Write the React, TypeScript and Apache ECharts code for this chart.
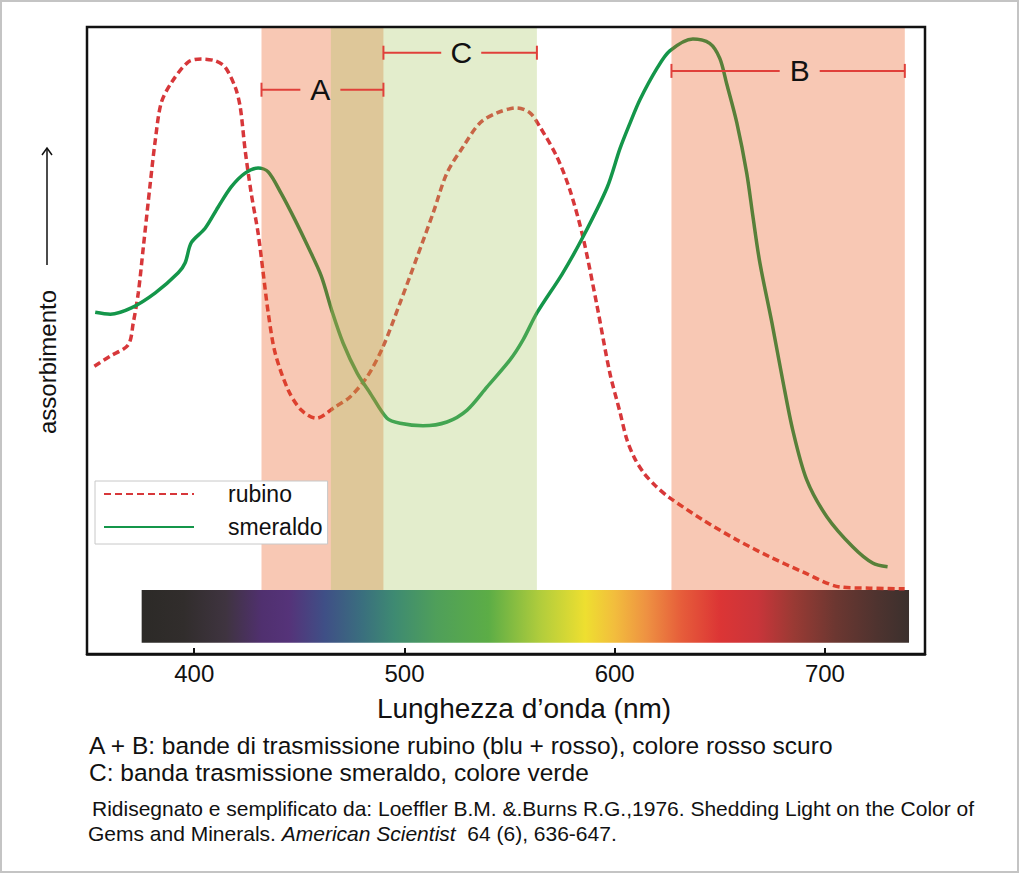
import React, { useEffect, useRef } from "react";
import * as echarts from "echarts";

// ---------- data ----------
const xTicks = [400, 500, 600, 700];

// rubino absorption (wavelength nm, relative absorbance 0-100)
const rubino: [number, number][] = [
  [352.5, 45.9], [360, 47.5], [368.6, 49.3], [371.0, 52.8], [373.4, 57.6], [375.8, 64.9],
  [379.1, 75.1], [381.5, 82.0], [384.3, 87.9], [389.1, 91.1], [397.1, 94.4], [403.3, 94.9],
  [410.0, 94.6], [414.7, 93.6], [419.5, 90.4], [421.9, 87.2], [424.2, 80.4], [427.1, 73.5],
  [430.4, 67.1], [432.8, 60.8], [435.2, 54.4], [438.5, 48.0], [444.7, 42.1], [450.9, 38.9],
  [458.0, 37.6], [467.0, 39.4], [474.1, 41.0], [482.2, 44.2], [489.8, 49.0], [497.9, 56.0],
  [506.0, 63.3], [513.6, 70.3], [520.2, 76.7], [527.9, 80.9], [535.9, 84.7], [544.0, 86.3],
  [553.5, 87.1], [559.7, 86.3], [564.4, 84.1], [572.5, 79.3], [578.7, 74.0], [584.9, 66.5],
  [591.5, 55.7], [597.7, 44.8], [602.5, 38.6], [605.8, 34.2], [609.5, 31.2], [614.0, 28.8],
  [619.5, 26.8], [626.2, 24.9], [641.9, 21.4], [658.1, 18.2], [673.8, 15.5], [689.4, 13.1],
  [707.0, 10.7], [721.3, 10.5], [737.9, 10.4]
];

// smeraldo absorption
const smeraldo: [number, number][] = [
  [352.9, 54.5], [360.1, 54.2], [370.1, 55.2], [381.5, 57.6], [392.4, 60.8], [395.7, 62.4],
  [398.6, 65.6], [405.2, 67.9], [411.4, 71.3], [417.6, 74.5], [424.2, 76.7], [430.4, 77.5],
  [435.2, 76.9], [441.3, 73.5], [448.0, 69.2], [454.2, 64.9], [460.4, 60.3], [465.6, 54.6],
  [470.8, 49.6], [477.5, 44.8], [483.7, 41.6], [491.7, 37.6], [497.9, 36.8], [508.8, 36.4],
  [520.2, 37.0], [529.8, 38.9], [539.3, 42.6], [550.2, 46.9], [556.4, 50.1], [563.0, 54.4],
  [575.0, 60.6], [584.9, 66.5], [596.4, 74.4], [602.5, 80.6], [607.2, 84.6], [612.0, 88.4],
  [620.1, 93.4], [626.2, 96.2], [637.2, 98.1], [645.2, 97.4], [650.0, 95.0], [653.3, 90.9],
  [658.1, 84.7], [662.8, 76.7], [665.7, 69.9], [669.0, 62.5], [674.8, 52.8], [679.9, 43.7],
  [684.7, 35.7], [691.3, 27.8], [700.9, 21.9], [713.2, 17.1], [722.7, 14.5], [729.8, 13.9]
];

// transmission bands (nm)
const pinkBands: [number, number][] = [[432, 490], [627, 738]];
const greenBands: [number, number][] = [[465, 563]];
const bandTop = 100;
const bandBottom = 10.2;

// bracket labels: from, to, level (absorbance units), label centre (nm)
const bracketLabels = ["A", "C", "B"];
const bracketFrom = [432, 490, 627];
const bracketTo = [490, 563, 738];
const bracketLevel = [90.0, 95.9, 93.0];
const bracketLabelAt = [460, 527, 688];

// visible spectrum bar
const spectrumFrom = 375;
const spectrumTo = 740;
const spectrumTop = 10.2;
const spectrumBottom = 1.8;
const spectrumWavelengths = [375, 395, 415, 432, 445, 462, 480, 495, 515, 540, 565, 586, 600, 615, 632, 650, 668, 685, 705, 725, 740];
const spectrumColors = [
  "#2c2a27", "#312d2c", "#3f3440", "#50306f", "#553379", "#3f4f86", "#3a6f7e", "#3e8a72",
  "#4f9f5a", "#5cad46", "#b2cd3c", "#eedf30", "#f2bd3d", "#ee9242", "#e65c3a", "#dc3535",
  "#c9353a", "#9a3a34", "#6c3731", "#4e332f", "#3b302d"
];

const FONT = "'Liberation Sans', Arial, Helvetica, sans-serif";

export default function App() {
  const ref = useRef<HTMLDivElement>(null);

  useEffect(() => {
    if (!ref.current) return;
    const chart = echarts.init(ref.current, null, { renderer: "svg" });

    const pink = "rgba(233,83,21,0.32)";
    const green = "rgba(167,199,96,0.32)";
    const bracketColor = "#e0403a";

    const bandData = [
      ...pinkBands.map((b) => [b[0], b[1], 0]),
      ...greenBands.map((b) => [b[0], b[1], 1]),
    ];

    const stops = spectrumWavelengths.map((w, i) => ({
      offset: (w - spectrumFrom) / (spectrumTo - spectrumFrom),
      color: spectrumColors[i],
    }));

    const option: any = {
      animation: false,
      backgroundColor: "#ffffff",
      grid: { left: 87, top: 27, width: 838, height: 627, containLabel: false },
      xAxis: {
        type: "value",
        min: 349,
        max: 747.6,
        axisLine: { show: true, lineStyle: { color: "#111", width: 2.5 } },
        axisTick: { show: true, inside: true, length: 6, lineStyle: { color: "#111", width: 2 }, customValues: xTicks },
        axisLabel: { customValues: xTicks, fontSize: 24, color: "#111", margin: 7, fontFamily: FONT },
        splitLine: { show: false },
        name: "Lunghezza d\u2019onda (nm)",
        nameLocation: "middle",
        nameGap: 40,
        nameTextStyle: { fontSize: 28, color: "#111", fontFamily: FONT, padding: [0, 0, 0, 36] },
      },
      yAxis: {
        type: "value",
        min: 0,
        max: 100,
        show: false,
      },
      legend: {
        data: ["rubino", "smeraldo"],
        orient: "vertical",
        left: 95,
        top: 481,
        itemWidth: 90,
        itemHeight: 14,
        itemGap: 7,
        padding: [0, 5, 4, 8],
        backgroundColor: "#ffffff",
        borderColor: "#c8c8c8",
        borderWidth: 1,
        itemStyle: { color: "rgba(0,0,0,0)", borderColor: "rgba(0,0,0,0)", borderWidth: 0 },
        textStyle: { fontSize: 23, lineHeight: 26, color: "#111", fontFamily: FONT, padding: [0, 0, 0, 29] },
        selectedMode: false,
      },
      series: [
        {
          name: "spectrum",
          type: "custom",
          z: 1,
          silent: true,
          data: [[spectrumFrom, spectrumTo]],
          renderItem: (params: any, api: any) => {
            const p0 = api.coord([api.value(0), spectrumTop]);
            const p1 = api.coord([api.value(1), spectrumBottom]);
            return {
              type: "rect",
              shape: { x: p0[0], y: p0[1], width: p1[0] - p0[0], height: p1[1] - p0[1] },
              style: { fill: new echarts.graphic.LinearGradient(0, 0, 1, 0, stops) },
            };
          },
        },
        {
          name: "rubino",
          type: "line",
          z: 2,
          data: rubino,
          symbol: "none",
          smooth: 0.3,
          lineStyle: { color: "#d7373a", width: 3.5, type: [7, 4] },
          itemStyle: { color: "#d7373a" },
        },
        {
          name: "smeraldo",
          type: "line",
          z: 2,
          data: smeraldo,
          symbol: "none",
          smooth: 0.3,
          lineStyle: { color: "#14964a", width: 3.5 },
          itemStyle: { color: "#14964a" },
        },
        {
          name: "bands",
          type: "custom",
          z: 3,
          silent: true,
          data: bandData,
          renderItem: (params: any, api: any) => {
            const p0 = api.coord([api.value(0), bandTop]);
            const p1 = api.coord([api.value(1), bandBottom]);
            return {
              type: "rect",
              shape: { x: p0[0], y: p0[1], width: p1[0] - p0[0], height: p1[1] - p0[1] },
              style: { fill: api.value(2) === 0 ? pink : green },
            };
          },
        },
        {
          name: "brackets",
          type: "custom",
          z: 5,
          silent: true,
          data: bracketLabels.map((l, i) => [bracketFrom[i], bracketTo[i], bracketLevel[i], bracketLabelAt[i]]),
          renderItem: (params: any, api: any) => {
            const i = params.dataIndex;
            const a = api.coord([api.value(0), api.value(2)]);
            const b = api.coord([api.value(1), api.value(2)]);
            const c = api.coord([api.value(3), api.value(2)]);
            const gap = 20;
            const cap = 7;
            const ls = { stroke: bracketColor, lineWidth: 2 };
            return {
              type: "group",
              children: [
                { type: "line", shape: { x1: a[0], y1: a[1], x2: c[0] - gap, y2: a[1] }, style: ls },
                { type: "line", shape: { x1: c[0] + gap, y1: a[1], x2: b[0], y2: a[1] }, style: ls },
                { type: "line", shape: { x1: a[0], y1: a[1] - cap, x2: a[0], y2: a[1] + cap }, style: ls },
                { type: "line", shape: { x1: b[0], y1: b[1] - cap, x2: b[0], y2: b[1] + cap }, style: ls },
                {
                  type: "text",
                  x: c[0],
                  y: c[1],
                  style: {
                    text: bracketLabels[i],
                    fontSize: 30,
                    fontFamily: FONT,
                    fill: "#111",
                    align: "center",
                    verticalAlign: "middle",
                  },
                },
              ],
            };
          },
        },
      ],
      graphic: [
        {
          type: "rect",
          z: 0,
          silent: true,
          shape: { x: 1, y: 1, width: 1017, height: 871 },
          style: { fill: "none", stroke: "#c4c4c4", lineWidth: 2 },
        },
        {
          type: "rect",
          z: 50,
          silent: true,
          shape: { x: 87, y: 27, width: 838, height: 627 },
          style: { fill: "none", stroke: "#111", lineWidth: 2.5 },
        },
        {
          type: "text",
          x: 47,
          y: 362,
          rotation: Math.PI / 2,
          style: {
            text: "assorbimento",
            fontSize: 24,
            fontFamily: FONT,
            fill: "#111",
            align: "center",
            verticalAlign: "middle",
          },
        },
        {
          type: "line",
          shape: { x1: 47, y1: 265, x2: 47, y2: 148 },
          style: { stroke: "#111", lineWidth: 1.5 },
        },
        {
          type: "polyline",
          shape: { points: [[42, 155], [47, 148], [52, 155]] },
          style: { stroke: "#111", lineWidth: 1.5, fill: "none" },
        },
        {
          type: "text",
          x: 89,
          y: 745,
          style: {
            text: "A + B: bande di trasmissione rubino (blu + rosso), colore rosso scuro",
            fontSize: 24.5,
            fontFamily: FONT,
            fill: "#111",
            verticalAlign: "middle",
          },
        },
        {
          type: "text",
          x: 89,
          y: 772,
          style: {
            text: "C: banda trasmissione smeraldo, colore verde",
            fontSize: 24.5,
            fontFamily: FONT,
            fill: "#111",
            verticalAlign: "middle",
          },
        },
        {
          type: "text",
          x: 92,
          y: 808,
          style: {
            text: "Ridisegnato e semplificato da: Loeffler B.M. &.Burns R.G.,1976. Shedding Light on the Color of",
            fontSize: 21,
            fontFamily: FONT,
            fill: "#111",
            verticalAlign: "middle",
          },
        },
        {
          type: "text",
          x: 88,
          y: 833,
          style: {
            text: "Gems and Minerals. {i|American Scientist}  64 (6), 636-647.",
            fontSize: 21,
            fontFamily: FONT,
            fill: "#111",
            verticalAlign: "middle",
            rich: { i: { fontStyle: "italic", fontSize: 21, fontFamily: FONT, fill: "#111" } },
          },
        },
      ],
    };

    chart.setOption(option);
    return () => chart.dispose();
  }, []);

  return (
    <div
      ref={ref}
      style={{ position: "fixed", left: 0, top: 0, width: 1024, height: 876, background: "#fff" }}
    />
  );
}
